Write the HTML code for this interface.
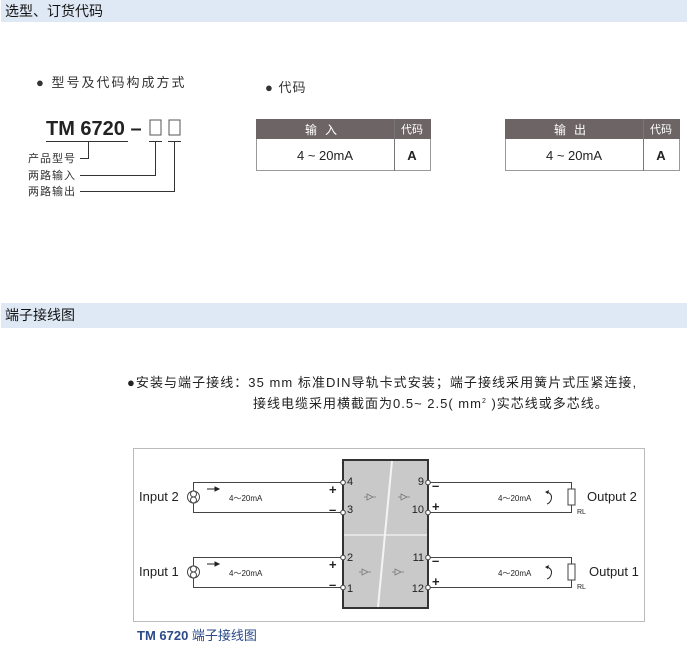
<!DOCTYPE html>
<html><head><meta charset="utf-8"><style>
body{margin:0;width:687px;height:651px;background:#fff;position:relative;overflow:hidden;font-family:"Liberation Sans","Noto Sans CJK SC",sans-serif;color:#222}
.a{position:absolute;white-space:nowrap}
.hdr{position:absolute;left:1px;width:686px;height:22px;background:#dfe9f5;font-size:14px;line-height:22px;padding-left:4px;box-sizing:border-box;color:#111}
</style></head><body>
<div class="hdr" style="top:0">选型、订货代码</div>
<div class="hdr" style="top:303px;height:25px;line-height:25px">端子接线图</div>

<div class="a" style="left:36px;top:72px;font-size:13px;letter-spacing:2px;color:#333">● 型号及代码构成方式</div>
<div class="a" style="left:265px;top:77px;font-size:13px;letter-spacing:1px;color:#333">● 代码</div>

<svg class="a" style="left:0;top:0" width="687" height="651">
 <g font-family="Liberation Sans, Noto Sans CJK SC, sans-serif">
 <text x="46" y="135" font-size="20" font-weight="bold" fill="#222">TM 6720 –</text>
 <rect x="150" y="120" width="11" height="15" fill="none" stroke="#555" stroke-width="1"/>
 <rect x="169" y="120" width="11" height="15" fill="none" stroke="#555" stroke-width="1"/>
 <g stroke="#333" stroke-width="1" fill="none">
  <line x1="46" y1="141.5" x2="128" y2="141.5"/>
  <line x1="149" y1="141.5" x2="162" y2="141.5"/>
  <line x1="168" y1="141.5" x2="181" y2="141.5"/>
  <polyline points="80,158.5 88.5,158.5 88.5,141.5"/>
  <polyline points="80,175.5 155.5,175.5 155.5,141.5"/>
  <polyline points="80,191.5 174.5,191.5 174.5,141.5"/>
 </g>
 <g font-size="11" fill="#333" letter-spacing="1">
  <text x="28" y="162">产品型号</text>
  <text x="28" y="179">两路输入</text>
  <text x="28" y="195">两路输出</text>
 </g>
 <g>
  <rect x="256.5" y="119.5" width="174" height="51" fill="#fff" stroke="#999"/>
  <rect x="256" y="119" width="175" height="20" fill="#6d6565"/>
  <line x1="394.5" y1="119" x2="394.5" y2="171" stroke="#777"/>
  <text x="325" y="134" font-size="12" fill="#fff" text-anchor="middle" letter-spacing="8">输入</text>
  <text x="412" y="133" font-size="11" fill="#fff" text-anchor="middle">代码</text>
  <text x="325" y="160" font-size="13" fill="#222" text-anchor="middle">4 ~ 20mA</text>
  <text x="412" y="160" font-size="13" font-weight="bold" fill="#222" text-anchor="middle">A</text>

  <rect x="505.5" y="119.5" width="174" height="51" fill="#fff" stroke="#999"/>
  <rect x="505" y="119" width="175" height="20" fill="#6d6565"/>
  <line x1="643.5" y1="119" x2="643.5" y2="171" stroke="#777"/>
  <text x="574" y="134" font-size="12" fill="#fff" text-anchor="middle" letter-spacing="8">输出</text>
  <text x="661" y="133" font-size="11" fill="#fff" text-anchor="middle">代码</text>
  <text x="574" y="160" font-size="13" fill="#222" text-anchor="middle">4 ~ 20mA</text>
  <text x="661" y="160" font-size="13" font-weight="bold" fill="#222" text-anchor="middle">A</text>
 </g>

 <text x="127" y="387" font-size="13" letter-spacing="0.9" fill="#222" textLength="510">●安装与端子接线：35 mm 标准DIN导轨卡式安装；端子接线采用簧片式压紧连接,</text>
 <text x="253" y="408" font-size="13" letter-spacing="1" fill="#222">接线电缆采用横截面为0.5~ 2.5( mm<tspan font-size="7" dy="-5">2</tspan><tspan dy="5"> )实芯线或多芯线。</tspan></text>

 <rect x="133.5" y="448.5" width="511" height="173" fill="#fff" stroke="#bbb"/>
 <rect x="343" y="460" width="85" height="148" fill="#c9c9c9" stroke="#333" stroke-width="2"/>
 <line x1="344" y1="535" x2="427" y2="535" stroke="#eee" stroke-width="1.5"/>
 <line x1="392" y1="461" x2="378" y2="607" stroke="#f4f4f4" stroke-width="2"/>
 <g stroke="#444" stroke-width="1" fill="none">
  <polyline points="343,482.5 193.5,482.5 193.5,512.5 343,512.5"/>
  <polyline points="343,557.5 193.5,557.5 193.5,587.5 343,587.5"/>
  <polyline points="428,482.5 571.5,482.5 571.5,512.5 428,512.5"/>
  <polyline points="428,557.5 571.5,557.5 571.5,587.5 428,587.5"/>
 </g>
 <g fill="#fff" stroke="#444" stroke-width="1">
  <rect x="568" y="489" width="7" height="16"/>
  <rect x="568" y="564" width="7" height="16"/>
  <circle cx="193.5" cy="497" r="6"/><circle cx="193.5" cy="494" r="3"/><circle cx="193.5" cy="500" r="3"/>
  <circle cx="193.5" cy="572" r="6"/><circle cx="193.5" cy="569" r="3"/><circle cx="193.5" cy="575" r="3"/>
  <circle cx="343" cy="482.5" r="2.3"/><circle cx="343" cy="512.5" r="2.3"/><circle cx="343" cy="557.5" r="2.3"/><circle cx="343" cy="587.5" r="2.3"/>
  <circle cx="428" cy="482.5" r="2.3"/><circle cx="428" cy="512.5" r="2.3"/><circle cx="428" cy="557.5" r="2.3"/><circle cx="428" cy="587.5" r="2.3"/>
 </g>
 <g stroke="#222" stroke-width="1" fill="#222">
  <line x1="207" y1="489" x2="216" y2="489"/><path d="M219,489 l-4,-2 v4z"/>
  <line x1="207" y1="564" x2="216" y2="564"/><path d="M219,564 l-4,-2 v4z"/>
 </g>
 <g stroke="#222" fill="none">
  <path d="M547,492 q6,2 4,8 q-1,3 -4,4"/><path d="M547,567 q6,2 4,8 q-1,3 -4,4"/>
 </g>
 <path d="M545,492 l4,-2 l-1,4z M545,567 l4,-2 l-1,4z" fill="#222"/>
 <g stroke="#777" fill="none" stroke-width="0.8">
  <path d="M364,497h3 M367,494 l6,3 l-6,3z M373,497h3"/>
  <path d="M398,497h3 M401,494 l6,3 l-6,3z M407,497h3"/>
  <path d="M359,572h3 M362,569 l6,3 l-6,3z M368,572h3"/>
  <path d="M392,572h3 M395,569 l6,3 l-6,3z M401,572h3"/>
 </g>
 <g font-size="11" fill="#222">
  <text x="139" y="501" font-size="13">Input 2</text>
  <text x="139" y="576" font-size="13">Input 1</text>
  <text x="229" y="501" font-size="8">4～20mA</text>
  <text x="229" y="576" font-size="8">4～20mA</text>
  <text x="498" y="501" font-size="8">4～20mA</text>
  <text x="498" y="576" font-size="8">4～20mA</text>
  <text x="587" y="501" font-size="13">Output 2</text>
  <text x="589" y="576" font-size="13">Output 1</text>
  <text x="577" y="514" font-size="7">RL</text>
  <text x="577" y="589" font-size="7">RL</text>
  <text x="347" y="485" font-size="11">4</text>
  <text x="347" y="513" font-size="11">3</text>
  <text x="347" y="561" font-size="11">2</text>
  <text x="347" y="592" font-size="11">1</text>
  <text x="424" y="485" font-size="11" text-anchor="end">9</text>
  <text x="424" y="513" font-size="11" text-anchor="end">10</text>
  <text x="424" y="561" font-size="11" text-anchor="end">11</text>
  <text x="424" y="592" font-size="11" text-anchor="end">12</text>
  <text x="329" y="494" font-size="13" font-weight="bold">+</text>
  <text x="329" y="514" font-size="13" font-weight="bold">–</text>
  <text x="329" y="569" font-size="13" font-weight="bold">+</text>
  <text x="329" y="589" font-size="13" font-weight="bold">–</text>
  <text x="432" y="490" font-size="13" font-weight="bold">–</text>
  <text x="432" y="511" font-size="13" font-weight="bold">+</text>
  <text x="432" y="565" font-size="13" font-weight="bold">–</text>
  <text x="432" y="586" font-size="13" font-weight="bold">+</text>
 </g>
 <text x="137" y="640" font-size="13" font-weight="bold" fill="#2a4a8a">TM 6720 <tspan font-weight="normal">端子接线图</tspan></text>
 </g>
</svg>
</body></html>
